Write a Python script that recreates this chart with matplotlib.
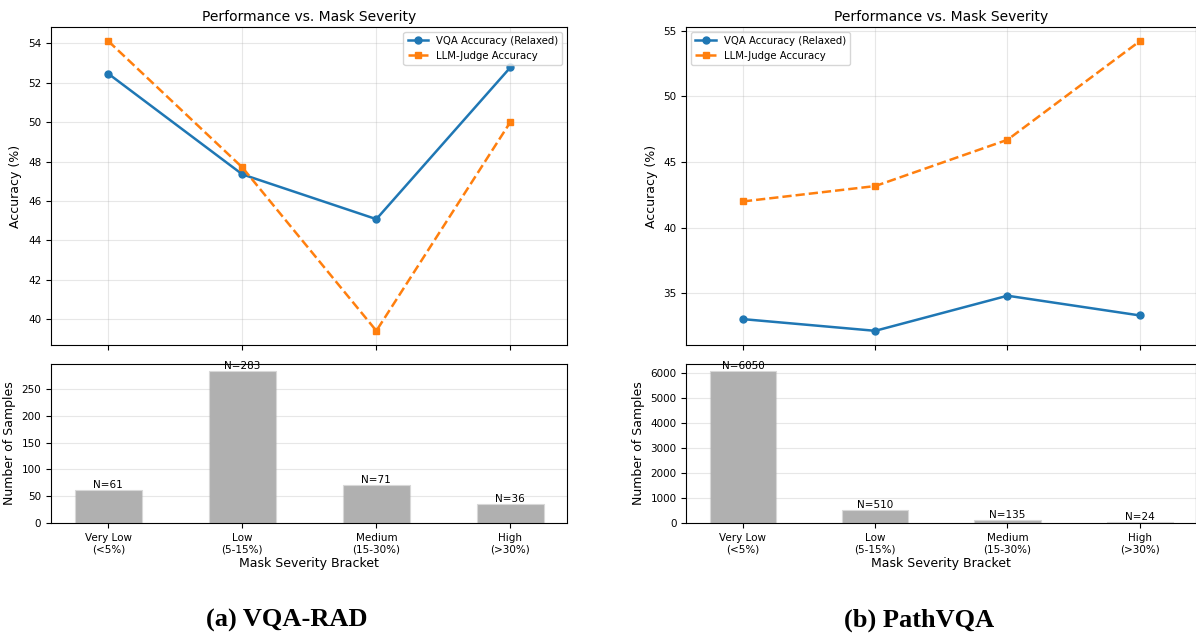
import matplotlib
matplotlib.use("Agg")
import matplotlib.pyplot as plt
import numpy as np

categories = ["Very Low\n(<5%)", "Low\n(5-15%)", "Medium\n(15-30%)", "High\n(>30%)"]

rad_vqa = [52.45, 47.35, 45.08, 52.77]
rad_llm = [54.10, 47.70, 39.42, 50.00]
rad_n = [61, 283, 71, 36]

path_vqa = [33.05, 32.16, 34.83, 33.33]
path_llm = [42.00, 43.17, 46.69, 54.19]
path_n = [6050, 510, 135, 24]

captions = ["(a) VQA-RAD", "(b) PathVQA"]

W, H = 1196, 637
fig = plt.figure(figsize=(W / 100, H / 100), dpi=100)


def px_axes(x0, y0, x1, y1):
    return fig.add_axes([x0 / W, (H - y1) / H, (x1 - x0) / W, (y1 - y0) / H])


panels = [
    (51, 567.3, rad_vqa, rad_llm, rad_n, "upper right", captions[0]),
    (686.3, 1196, path_vqa, path_llm, path_n, "upper left", captions[1]),
]

x = np.arange(len(categories))
for (x0, x1, vqa, llm, ns, legloc, cap) in panels:
    ax1 = px_axes(x0, 26.7, x1, 345.3)
    ax2 = px_axes(x0, 363.7, x1, 523)

    ax1.plot(x, vqa, color="#1f77b4", marker="o", linestyle="-", linewidth=1.8,
             markersize=5, label="VQA Accuracy (Relaxed)")
    ax1.plot(x, llm, color="#ff7f0e", marker="s", linestyle="--", linewidth=1.8,
             markersize=5, label="LLM-Judge Accuracy")
    ax1.set_title("Performance vs. Mask Severity", fontsize=10, pad=4)
    ax1.set_ylabel("Accuracy (%)", fontsize=9)
    ax1.grid(True, alpha=0.3)
    ax1.legend(loc=legloc, fontsize=7.3)
    ax1.tick_params(labelsize=7.5, labelbottom=False)
    ax1.set_xticks(x)

    ax2.bar(x, ns, width=0.5, color="#b0b0b0", edgecolor="#d8d8d8", linewidth=0.8)
    for xi, n in zip(x, ns):
        ax2.text(xi, n, f"N={n}", ha="center", va="bottom", fontsize=7.5)
    ax2.set_xticks(x)
    ax2.set_xticklabels(categories, fontsize=7.5)
    ax2.set_ylabel("Number of Samples", fontsize=9)
    ax2.set_xlabel("Mask Severity Bracket", fontsize=9, labelpad=2)
    ax2.grid(True, axis="y", alpha=0.3)
    ax2.tick_params(labelsize=7.5)
    ax2.set_xlim(-0.428, 3.425)
    ax1.set_xlim(-0.428, 3.425)

    fig.text(((x0 + x1) / 2 - 22) / W, 1 - 620 / H, cap, ha="center", va="center",
             fontsize=19, fontweight="bold", family="Liberation Serif")

fig.savefig("out.png", dpi=100)
